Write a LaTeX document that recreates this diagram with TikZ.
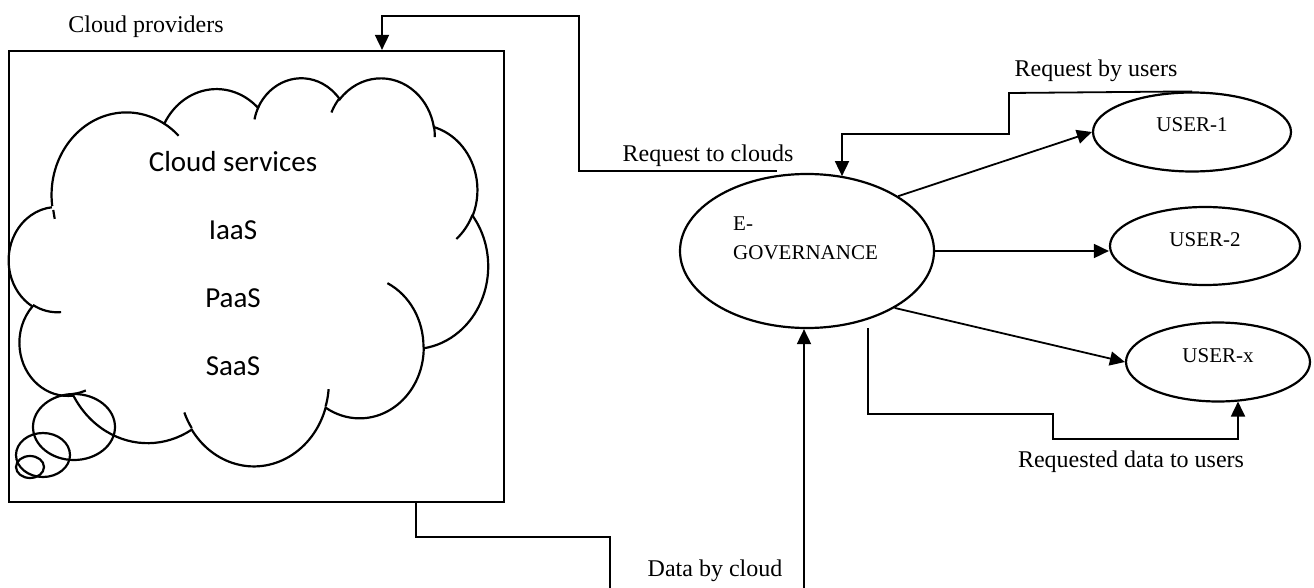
\documentclass[tikz,border=0pt]{standalone}
\usepackage{fontspec}
\setmainfont{Liberation Serif}
\newfontfamily\cloudfont{Carlito}
\usetikzlibrary{arrows.meta,shapes.geometric}
\begin{document}
\begin{tikzpicture}[x=1pt,y=-1pt,
  lbl/.style={font=\fontsize{24}{28}\selectfont, inner sep=0pt, anchor=base},
  etxt/.style={font=\fontsize{21}{25}\selectfont, inner sep=0pt, anchor=base west},
  ell/.style={draw, ellipse, line width=2.2pt, inner sep=0pt, text height=0pt, text depth=0pt, font=\fontsize{21}{25}\selectfont},
  conn/.style={line width=1.8pt},
  arr/.style={conn, -{Triangle[length=15pt,width=14pt]}},
  svc/.style={font=\cloudfont\fontsize{29}{34}\selectfont, inner sep=0pt, anchor=base},
  cloudline/.style={line width=2.2pt},
  warcB/.style n args={4}{x radius=#1, y radius=#2,
    start angle={atan2((#1)*sin(#3),(#2)*cos(#3))},
    delta angle={Mod(atan2((#1)*sin((#3)+(#4)),(#2)*cos((#3)+(#4)))-atan2((#1)*sin(#3),(#2)*cos(#3)),360)-360*((#4)<0)}},
]
\useasboundingbox (0,0) rectangle (1314,588);

% cloud provider box
\node[draw, line width=2.2pt, minimum width=495pt, minimum height=451pt, inner sep=0pt] (cp) at (256.5,276.5) {};
\node[lbl] (cpl) at (146,33) {Cloud providers};

% cloud shape
\begin{scope}[shift={(9,77)}, x=1.10880pt, y=-0.89815pt]
\draw[cloudline] (39.00,143.70)
  arc[warcB={67.53}{91.90}{-190.4875}{123.7805}]
  arc[warcB={53.33}{72.67}{-144.1024}{89.9452}]
  arc[warcB={43.65}{59.45}{-145.8079}{99.7230}]
  arc[warcB={48.57}{65.95}{-130.9861}{117.2417}]
  arc[warcB={53.33}{72.73}{-78.7089}{109.0269}]
  arc[warcB={67.75}{92.20}{-46.2673}{130.2690}]
  arc[warcB={57.85}{78.67}{0.6250}{114.0333}]
  arc[warcB={67.52}{92.15}{22.4516}{115.1726}]
  arc[warcB={77.20}{105.43}{66.2426}{75.7110}]
  arc[warcB={43.60}{59.18}{-274.9421}{146.7356}]
  arc[warcB={43.45}{59.45}{-246.8285}{152.5189}];
\draw[cloudline]
  (46.93,261.77) arc[warcB={43.45}{59.45}{86.7420}{26.4295}]
  (69.28,348.99) arc[warcB={43.60}{59.18}{73.6105}{11.4475}]
  (164.78,390.90) arc[warcB={67.52}{92.15}{137.6242}{14.0811}]
  (288.27,347.51) arc[warcB={67.52}{92.15}{6.4533}{15.9984}]
  (341.29,229.54) arc[warcB={57.85}{78.67}{-70.2924}{70.9174}]
  (417.98,153.54) arc[warcB={53.33}{72.73}{30.3180}{27.7515}]
  (383.24,54.26) arc[warcB={48.57}{65.95}{-13.7443}{14.8589}]
  (290.78,39.52) arc[warcB={48.57}{65.95}{-149.1815}{18.1954}]
  (221.41,47.20) arc[warcB={43.65}{59.45}{-163.4943}{17.6864}]
  (140.00,51.92) arc[warcB={67.53}{91.90}{-66.7070}{12.3194}]
  (41.27,157.89) arc[warcB={67.53}{91.90}{162.0468}{8.2521}];
\end{scope}
% thought bubbles
\draw[cloudline] (74,427) ellipse [x radius=41, y radius=33];
\draw[cloudline] (43,455) ellipse [x radius=27, y radius=22];
\draw[cloudline] (30,467) ellipse [x radius=14, y radius=11];

\node[svc] (cs) at (233,172) {Cloud services};
\node[svc] (ia) at (233,240) {IaaS};
\node[svc] (pa) at (233,307) {PaaS};
\node[svc] (sa) at (233,375) {SaaS};

% E-governance and users
\node[ell, minimum width=254pt, minimum height=154pt] (eg) at (807,251) {};
\node[etxt] (eg1) at (733,230) {E-};
\node[etxt] (eg2) at (733,259) {GOVERNANCE};
\node[ell, minimum width=198pt, minimum height=79pt] (u1) at (1192,132) {USER-1};
\node[ell, minimum width=190pt, minimum height=78pt] (u2) at (1205,246) {USER-2};
\node[ell, minimum width=184pt, minimum height=79pt] (ux) at (1218,362) {USER-x};

\draw[arr] (eg.31) -- (u1.west);
\draw[arr] (eg.east) -- (eg.east -| u2.west);
\draw[arr] (eg.-33.5) -- (ux.west);

% request by users
\coordinate (rb1) at (1009,93);
\coordinate (rb2) at (842,134);
\draw[arr] (u1.north) -- (rb1) |- (rb2) -- (rb2 |- eg.64.7);
\node[lbl] (rbl) at (1096,77) {Request by users};

% requested data to users
\coordinate (rd0) at (868,328);
\coordinate (rd1) at (1053,414);
\coordinate (rd2) at (1238,439);
\draw[arr] (rd0) |- (rd1) |- (rd2) -- (rd2 |- ux.-62.6);
\node[lbl] (rdl) at (1131,467) {Requested data to users};

% request to clouds
\coordinate (rq) at (777,171);
\coordinate (rq1) at (579,16);
\coordinate (t1) at (382,16);
\draw[arr] (rq) -| (rq1) -- (t1) -- (t1 |- cp.north);
\node[lbl] (rql) at (708,162) {Request to clouds};

% data by cloud
\coordinate (b1) at (416,537);
\coordinate (b2) at (610,588);
\draw[conn] (b1 |- cp.south) -- (b1) -| (b2);
\coordinate (dc) at (804,588);
\draw[arr] (dc) -- (dc |- eg.south);
\node[lbl] (dcl) at (715,576) {Data by cloud};
\end{tikzpicture}
\end{document}
